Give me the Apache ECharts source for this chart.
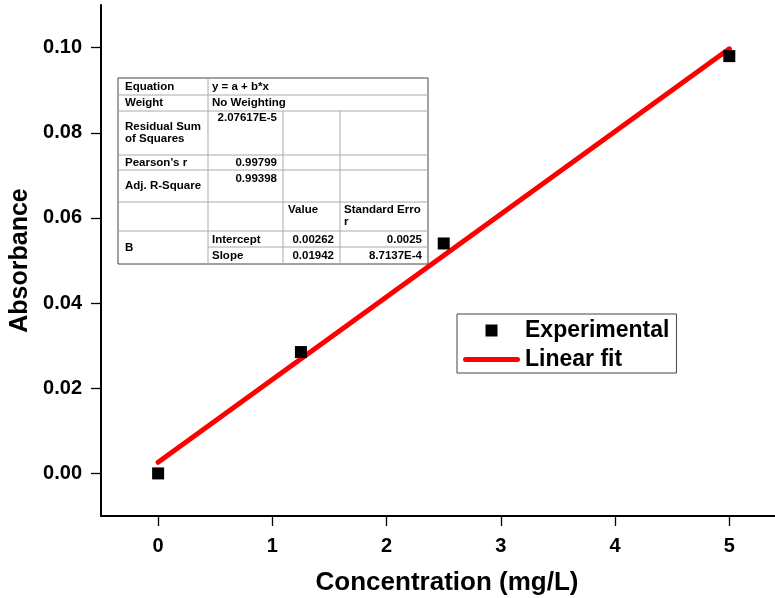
<!DOCTYPE html>
<html>
<head>
<meta charset="utf-8">
<script src="https://cdn.jsdelivr.net/npm/echarts@6/dist/echarts.min.js"></script>
<style>
html,body{margin:0;padding:0;background:#fff;}
#chart{width:775px;height:598px;}
</style>
</head>
<body>
<div id="chart"></div>
<script>
// ---- data ----
const concentration = [0, 1.25, 2.5, 5];
const absorbance = [0.0, 0.0285, 0.054, 0.098];
const fitX = [0, 5];
const fitY = [0.00262, 0.09972];
const xTicks = [0, 1, 2, 3, 4, 5];
const yTicks = [0, 0.02, 0.04, 0.06, 0.08, 0.10];
const seriesNames = ['Experimental', 'Linear fit'];
const axisNames = ['Concentration (mg/L)', 'Absorbance'];
const statLabels = ['Equation', 'Weight', 'Residual Sum\nof Squares', "Pearson's r", 'Adj. R-Square', 'B'];
const statTexts = ['y = a + b*x', 'No Weighting', 'Value', 'Standard Erro\nr', 'Intercept', 'Slope'];
const statValues = ['2.07617E-5', '0.99799', '0.99398', '0.00262', '0.0025', '0.01942', '8.7137E-4'];

const FONT = "'Liberation Sans', Arial, sans-serif";
const chart = echarts.init(document.getElementById('chart'));

function txt(s, x, y, align, valign) {
  return { type: 'text', z: 100, style: { text: s, x: x, y: y, fill: '#000',
    font: 'bold 11.5px ' + FONT, textAlign: align || 'left', textVerticalAlign: valign || 'middle', lineHeight: 12 } };
}
function ln(x1, y1, x2, y2, c) {
  return { type: 'line', z: 99, shape: { x1: x1, y1: y1, x2: x2, y2: y2 }, style: { stroke: c || '#aaa', lineWidth: 1 } };
}
const L = 118, R = 428, T = 78, B = 264, C1 = 208, C2 = 283, C3 = 340;
const tableEls = [
  { type: 'rect', z: 98, shape: { x: L, y: T, width: R - L, height: B - T }, style: { fill: '#fff', stroke: '#444', lineWidth: 1 } },
  ln(L, 95, R, 95), ln(L, 111, R, 111), ln(L, 155, R, 155), ln(L, 170, R, 170),
  ln(L, 202, R, 202), ln(L, 231, R, 231), ln(C1, 247, R, 247),
  ln(C1, T, C1, B), ln(C2, 111, C2, B), ln(C3, 111, C3, B),
  txt(statLabels[0], 125, 87), txt(statLabels[1], 125, 103),
  txt(statLabels[2], 125, 133), txt(statLabels[3], 125, 163),
  txt(statLabels[4], 125, 186), txt(statLabels[5], 125, 248),
  txt(statTexts[0], 212, 87), txt(statTexts[1], 212, 103),
  txt(statValues[0], 277, 118, 'right'), txt(statValues[1], 277, 163, 'right'),
  txt(statValues[2], 277, 179, 'right'),
  txt(statTexts[2], 288, 210), txt(statTexts[3], 344, 216),
  txt(statTexts[4], 212, 240), txt(statTexts[5], 212, 256),
  txt(statValues[3], 334, 240, 'right'), txt(statValues[4], 422, 240, 'right'),
  txt(statValues[5], 334, 256, 'right'), txt(statValues[6], 422, 256, 'right')
];

chart.setOption({
  animation: false,
  backgroundColor: '#fff',
  textStyle: { fontFamily: FONT },
  grid: { left: 101, right: 0, top: 5, bottom: 82, containLabel: false, outerBoundsMode: 'none' },
  xAxis: {
    type: 'value', min: -0.5, max: 5.4,
    name: axisNames[0], nameLocation: 'middle', nameGap: 54,
    nameTextStyle: { fontSize: 26, fontWeight: 'bold', color: '#000', fontFamily: FONT, padding: [0, 0, 0, 18] },
    axisLine: { onZero: false, lineStyle: { color: '#000', width: 2 } },
    axisTick: { inside: false, length: 10, lineStyle: { color: '#000', width: 1.3 }, customValues: xTicks },
    axisLabel: { customValues: xTicks, margin: 20, fontSize: 20, fontWeight: 'bold', color: '#000', fontFamily: FONT },
    splitLine: { show: false }
  },
  yAxis: {
    type: 'value', min: -0.01, max: 0.11,
    name: axisNames[1], nameLocation: 'middle', nameGap: 64, nameRotate: 90,
    nameTextStyle: { fontSize: 25, fontWeight: 'bold', color: '#000', fontFamily: FONT },
    axisLine: { onZero: false, lineStyle: { color: '#000', width: 2 } },
    axisTick: { inside: false, length: 10, lineStyle: { color: '#000', width: 1.3 }, customValues: yTicks },
    axisLabel: { customValues: yTicks, margin: 19, fontSize: 20, fontWeight: 'bold', color: '#000', fontFamily: FONT,
      formatter: v => v.toFixed(2) },
    splitLine: { show: false }
  },
  legend: {
    orient: 'vertical', left: 457, top: 314,
    padding: [5, 7, 2, 6], itemGap: 6, itemWidth: 57, itemHeight: 12,
    borderColor: '#444', borderWidth: 1, backgroundColor: '#fff',
    textStyle: { fontSize: 23, fontWeight: 'bold', color: '#000', fontFamily: FONT },
    data: [
      { name: seriesNames[0], icon: 'path://M0,0L10,0L10,10L0,10Z' },
      { name: seriesNames[1], icon: 'path://M2.5,0L54.5,0A2.5,2.5,0,0,1,54.5,5L2.5,5A2.5,2.5,0,0,1,2.5,0Z' }
    ]
  },
  series: [
    {
      name: seriesNames[1], type: 'line', z: 2,
      data: fitX.map((x, i) => [x, fitY[i]]),
      symbol: 'none', showSymbol: false,
      lineStyle: { color: '#ff0000', width: 5, cap: 'round' },
      itemStyle: { color: '#ff0000' }
    },
    {
      name: seriesNames[0], type: 'scatter', z: 3,
      data: concentration.map((x, i) => [x, absorbance[i]]),
      symbol: 'rect', symbolSize: 12,
      itemStyle: { color: '#000', opacity: 1 }
    }
  ],
  graphic: tableEls
});
</script>
</body>
</html>
